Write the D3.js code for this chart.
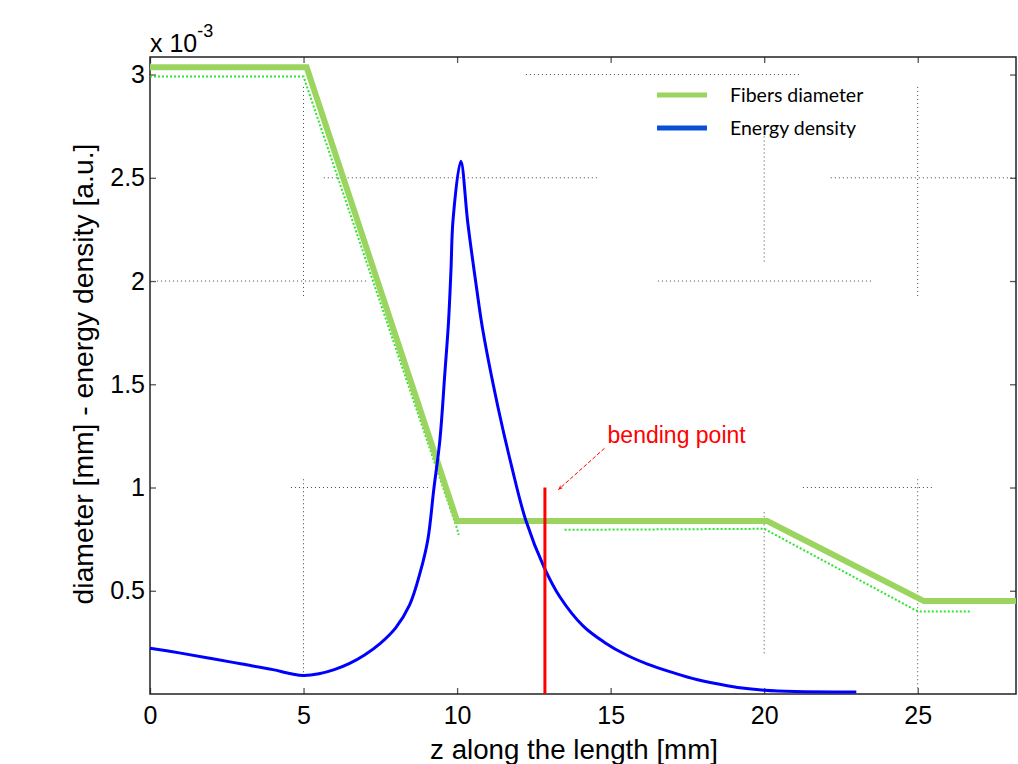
<!DOCTYPE html>
<html>
<head>
<meta charset="utf-8">
<script src="https://cdn.jsdelivr.net/npm/d3@7"></script>
<style>
  body { margin: 0; background: #fff; }
  .tick text { font-family: "Liberation Sans", Arial, sans-serif; }
</style>
</head>
<body>
<div id="chart"></div>
<script>
// data (x in mm, y in units of 1e-3)
var fiberX = [0, 5.1, 10.0, 20.1, 25.2, 28.2];
var fiberY = [3.035, 3.035, 0.838, 0.838, 0.45, 0.45];

var fiberDotA_X = [0, 5.0, 10.0, 10.05];
var fiberDotA_Y = [2.99, 2.99, 0.80, 0.77];
var fiberDotB_X = [13.5, 20.0, 25.0, 26.7];
var fiberDotB_Y = [0.795, 0.80, 0.40, 0.40];

var energyX = [0, 1, 2, 3, 4, 4.6, 5.0, 5.5, 6.0, 6.5, 7.0, 7.5, 8.0, 8.45, 8.8, 9.05, 9.24, 9.44, 9.6, 9.72, 9.8, 9.87, 10.12,
               10.35, 10.64, 10.84, 11.33, 11.78, 12.24, 12.83, 13.35, 14.1, 14.8, 15.5, 16.2, 17.0, 17.8, 18.8, 19.5, 20.0, 21.0, 23.0];
var energyY = [0.222, 0.198, 0.172, 0.145, 0.118, 0.098, 0.090, 0.098, 0.118, 0.148, 0.19, 0.245, 0.32, 0.43, 0.59, 0.75, 0.99, 1.23, 1.55, 1.80, 2.05, 2.30, 2.58,
               2.28, 1.96, 1.76, 1.39, 1.10, 0.84, 0.615, 0.47, 0.33, 0.25, 0.19, 0.145, 0.105, 0.07, 0.04, 0.025, 0.018, 0.012, 0.01];

var bendX = 12.86, bendTop = 1.0;

var xTicks = [0, 5, 10, 15, 20, 25];
var yTicks = [0.5, 1, 1.5, 2, 2.5, 3];

// dotted grid pieces that survive in the picture: [value, from, to]
var gridH = [[3, 12.24, 21.19], [2.5, 5.66, 14.62], [2.5, 22.17, 28.2], [2, 0.23, 7.06], [2, 16.54, 23.54],
             [1, 4.59, 9.05], [1, 21.26, 25.55]];
var gridV = [[5, 2.94, 1.92], [5, 1.04, 0.09], [20, 2.70, 2.09], [20, 0.88, 0.19], [25, 2.94, 1.92], [25, 1.04, 0.02]];

var legendItems = ["Fibers diameter", "Energy density"];
var legendColors = ["#9bd45f", "#0a4fd6"];

var width = 1018, height = 764;
var pLeft = 150, pTop = 57, pRight = 1016, pBottom = 694;

var svg = d3.select("#chart").append("svg")
    .attr("width", width)
    .attr("height", height);

var x = d3.scaleLinear().domain([0, 28.2]).range([pLeft, pRight]);
var y = d3.scaleLinear().domain([0, 3.085]).range([pBottom, pTop]);

// grid
svg.selectAll(".gh").data(gridH).enter().append("line")
    .attr("x1", function(d) { return x(d[1]); })
    .attr("x2", function(d) { return x(d[2]); })
    .attr("y1", function(d) { return y(d[0]); })
    .attr("y2", function(d) { return y(d[0]); })
    .attr("stroke", "#444").attr("stroke-width", 1).attr("stroke-dasharray", "1,3");

svg.selectAll(".gv").data(gridV).enter().append("line")
    .attr("x1", function(d) { return x(d[0]); })
    .attr("x2", function(d) { return x(d[0]); })
    .attr("y1", function(d) { return y(d[1]); })
    .attr("y2", function(d) { return y(d[2]); })
    .attr("stroke", "#444").attr("stroke-width", 1).attr("stroke-dasharray", "1,3");

// axes
var xAxis = d3.axisBottom(x).tickValues(xTicks).tickSizeInner(-6).tickSizeOuter(0).tickPadding(12);
var yAxis = d3.axisLeft(y).tickValues(yTicks).tickSizeInner(-6).tickSizeOuter(0).tickPadding(5)
    .tickFormat(d3.format("~g"));

svg.append("g").attr("transform", "translate(0," + pBottom + ")").call(xAxis);
svg.append("g").attr("transform", "translate(" + pLeft + ",0)").call(yAxis);
svg.append("g").attr("transform", "translate(0," + pTop + ")")
    .call(d3.axisTop(x).tickValues(xTicks).tickSizeInner(-6).tickSizeOuter(0).tickFormat(""));
svg.append("g").attr("transform", "translate(" + pRight + ",0)")
    .call(d3.axisRight(y).tickValues(yTicks).tickSizeInner(-6).tickSizeOuter(0).tickFormat(""));

svg.selectAll(".domain").remove();
svg.selectAll(".tick line").attr("stroke", "#555").attr("stroke-width", 1.3);
svg.selectAll(".tick text").attr("font-size", 25).attr("fill", "#000");

svg.append("rect")
    .attr("x", pLeft).attr("y", pTop)
    .attr("width", pRight - pLeft).attr("height", pBottom - pTop)
    .attr("fill", "none").attr("stroke", "#222").attr("stroke-width", 1.5);

// lines
var line = d3.line()
    .x(function(d) { return x(d[0]); })
    .y(function(d) { return y(d[1]); });

var pairs = function(xs, ys) { return xs.map(function(v, i) { return [v, ys[i]]; }); };

svg.append("path")
    .attr("d", line(pairs(fiberDotA_X, fiberDotA_Y)))
    .attr("fill", "none").attr("stroke", "#2de52d").attr("stroke-width", 2).attr("stroke-dasharray", "2,2");
svg.append("path")
    .attr("d", line(pairs(fiberDotB_X, fiberDotB_Y)))
    .attr("fill", "none").attr("stroke", "#2de52d").attr("stroke-width", 2).attr("stroke-dasharray", "2,2");

svg.append("path")
    .attr("d", line(pairs(fiberX, fiberY)))
    .attr("fill", "none").attr("stroke", "#9bd45f").attr("stroke-width", 6);

svg.append("path")
    .attr("d", line.curve(d3.curveCatmullRom.alpha(0.5))(pairs(energyX, energyY)))
    .attr("fill", "none").attr("stroke", "#0000ff").attr("stroke-width", 3);

// bending point
svg.append("line")
    .attr("x1", x(bendX)).attr("x2", x(bendX))
    .attr("y1", y(0)).attr("y2", y(bendTop))
    .attr("stroke", "#ff0000").attr("stroke-width", 3);

svg.append("defs").append("marker")
    .attr("id", "arrow").attr("viewBox", "0 0 10 10")
    .attr("refX", 9).attr("refY", 5)
    .attr("markerWidth", 5).attr("markerHeight", 5)
    .attr("orient", "auto")
  .append("path").attr("d", "M0,1 L10,5 L0,9 L3,5 Z").attr("fill", "#ff0000");

svg.append("line")
    .attr("x1", x(14.8)).attr("y1", y(1.19))
    .attr("x2", x(13.3)).attr("y2", y(0.99))
    .attr("stroke", "#ff0000").attr("stroke-width", 1).attr("stroke-dasharray", "4,2")
    .attr("marker-end", "url(#arrow)");

svg.append("text")
    .attr("x", x(14.9)).attr("y", y(1.215))
    .attr("font-family", "Liberation Sans, Arial, sans-serif")
    .attr("font-size", 23).attr("fill", "#ff0000")
    .text("bending point");

// exponent
var ex = svg.append("text")
    .attr("x", pLeft).attr("y", 52)
    .attr("font-family", "Liberation Sans, Arial, sans-serif")
    .attr("font-size", 25).attr("fill", "#000");
ex.append("tspan").text("x 10");
ex.append("tspan").attr("dy", -15).attr("font-size", 18).text("-3");

// axis titles
svg.append("text")
    .attr("x", 574).attr("y", 759)
    .attr("text-anchor", "middle")
    .attr("font-family", "Liberation Sans, Arial, sans-serif")
    .attr("font-size", 27.7).attr("fill", "#000")
    .text("z along the length [mm]");

svg.append("text")
    .attr("transform", "translate(93," + 374 + ") rotate(-90)")
    .attr("text-anchor", "middle")
    .attr("font-family", "Liberation Sans, Arial, sans-serif")
    .attr("font-size", 28.3).attr("fill", "#000")
    .text("diameter [mm] - energy density [a.u.]");

// legend
var lg = svg.selectAll(".lg").data(legendItems).enter().append("g")
    .attr("transform", function(d, i) { return "translate(657," + (95 + i * 33) + ")"; });
lg.append("line")
    .attr("x1", 0).attr("x2", 50)
    .attr("stroke", function(d, i) { return legendColors[i]; })
    .attr("stroke-width", 5);
lg.append("text")
    .attr("x", 73).attr("dy", "0.35em")
    .attr("font-family", "Lato, Carlito, Calibri, sans-serif")
    .attr("font-size", 19.5).attr("fill", "#000")
    .text(function(d) { return d; });
</script>
</body>
</html>
